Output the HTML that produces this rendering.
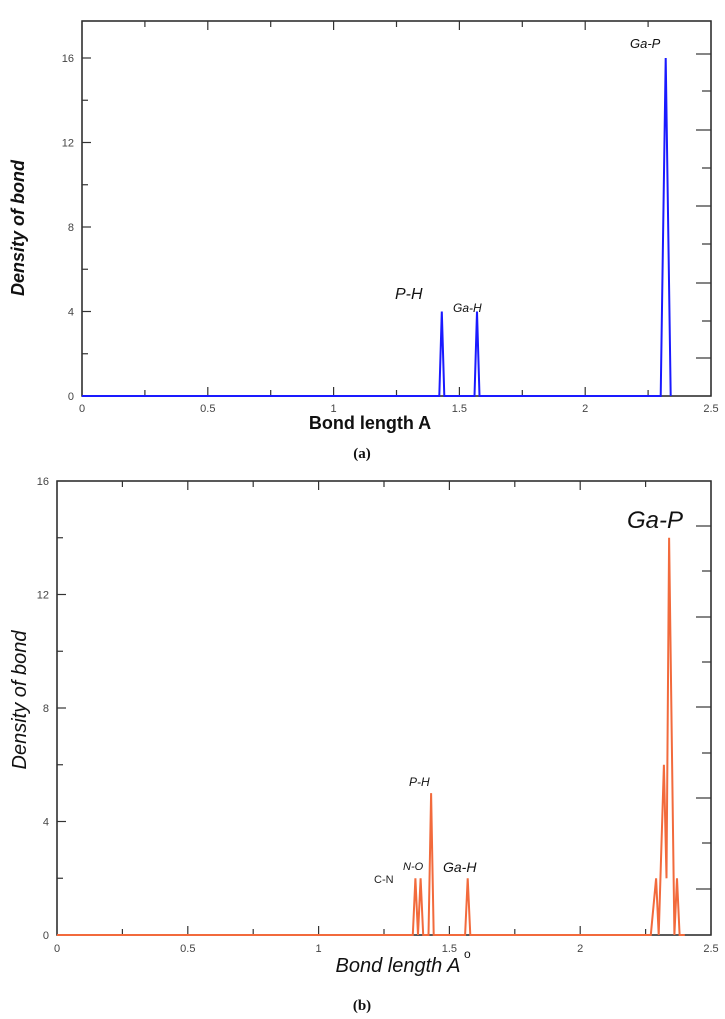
<!DOCTYPE html>
<html><head><meta charset="utf-8">
<style>
html,body{margin:0;padding:0;background:#fff;}
svg{display:block;}
text{font-family:"Liberation Sans",Arial,sans-serif;}
text.serif{font-family:"Liberation Serif","Times New Roman",serif;}
</style></head>
<body>
<svg id="fig" width="725" height="1019" viewBox="0 0 725 1019"></svg>
<script>
// Panel (a) data
const aX = [0, 1.42, 1.43, 1.44, 1.56, 1.57, 1.58, 2.30, 2.32, 2.34];
const aY = [0, 0, 4, 0, 0, 4, 0, 0, 16, 0];
// Panel (b) data
const bX = [0, 1.36, 1.37, 1.38, 1.39, 1.40, 1.42, 1.43, 1.44, 1.56, 1.57, 1.58, 2.27, 2.29, 2.30, 2.32, 2.33, 2.34, 2.36, 2.37, 2.38, 2.40];
const bY = [0, 0, 2, 0, 2, 0, 0, 5, 0, 0, 2, 0, 0, 2, 0, 6, 2, 14, 0, 2, 0, 0];
const xTicks = [0, 0.5, 1, 1.5, 2, 2.5];
const xTickLabels = ["0", "0.5", "1", "1.5", "2", "2.5"];
const yTicks = [0, 4, 8, 12, 16];
const yTickLabels = ["0", "4", "8", "12", "16"];

const NS = "http://www.w3.org/2000/svg";
const svg = document.getElementById("fig");
function mk(tag, attrs, parent, txt) {
  const e = document.createElementNS(NS, tag);
  for (const k in attrs) e.setAttribute(k, attrs[k]);
  if (txt !== undefined) e.textContent = txt;
  (parent || svg).appendChild(e);
  return e;
}

function panel(cfg) {
  const g = mk("g", {});
  
  
  const sx = v => cfg.x0 + (v - 0) / 2.5 * (cfg.x1 - cfg.x0);
  const sy = v => cfg.y0 - v / 16 * (cfg.y0 - cfg.y16);
  const fr = mk("rect", {x: cfg.x0, y: cfg.top, width: cfg.x1 - cfg.x0, height: cfg.y0 - cfg.top, fill: "none", stroke: "#222", "stroke-width": 1.5}, g);
  
  
  for (let v = 0; v <= 2.5001; v += 0.25) {
    const major = Math.abs(v * 2 - Math.round(v * 2)) < 1e-6;
    const L = major ? 9 : 6;
    mk("line", {x1: sx(v), x2: sx(v), y1: cfg.y0, y2: cfg.y0 - L, stroke: "#333", "stroke-width": 1.2}, g);
    mk("line", {x1: sx(v), x2: sx(v), y1: cfg.top, y2: cfg.top + L, stroke: "#333", "stroke-width": 1.2}, g);
  }
  xTicks.forEach((v, i) => {
    const t = mk("text", {x: sx(v), y: cfg.y0 + cfg.xlDy, "font-size": 11, fill: "#444", "text-anchor": "middle"}, g, xTickLabels[i]);
    
    
  });
  for (let v = 0; v <= 16; v += 2) {
    const major = v % 4 === 0;
    mk("line", {x1: cfg.x0, x2: cfg.x0 + (major ? 9 : 6), y1: sy(v), y2: sy(v), stroke: "#333", "stroke-width": 1.2}, g);
  }
  yTicks.forEach((v, i) => {
    const t = mk("text", {x: cfg.x0 - 8, y: sy(v) + 4, "font-size": 11, fill: "#444", "text-anchor": "end"}, g, yTickLabels[i]);
    
    
  });
  cfg.rightTicks.forEach((y, i) => {
    mk("line", {x1: cfg.x1, x2: cfg.x1 - (i % 2 ? 9 : 15), y1: y, y2: y, stroke: "#333", "stroke-width": 1.2}, g);
  });
  const pts = cfg.xs.map((v, i) => sx(v).toFixed(1) + "," + sy(cfg.ys[i]).toFixed(1)).join(" ");
  const pl = mk("polyline", {points: pts, fill: "none", stroke: cfg.color, "stroke-width": cfg.sw, "stroke-linejoin": "miter"}, g);
  
  
  return {g, sx, sy};
}

const A = panel({name: "panel-a", x0: 82, x1: 711, top: 21, y0: 396, y16: 58, color: "#1a1aff", sw: 2, xlDy: 16,
  xs: aX, ys: aY, rightTicks: [54, 91, 130, 168, 206, 244, 283, 321, 358]});
function lbl(x, y, s, txt, name, extra) {
  const t = mk("text", Object.assign({x, y, "font-size": s, "font-style": "italic", fill: "#111"}, extra || {}), svg, txt);
  
  
  return t;
}
lbl(630, 48, 13, "Ga-P", "label-ga-p");
lbl(395, 299, 16, "P-H", "label-p-h");
lbl(453, 312, 12, "Ga-H", "label-ga-h");
lbl(10, 228, 18, "Density of bond", "y-axis-title", {transform: "rotate(-90 10 228)", "text-anchor": "middle", dy: "14", "font-weight": "bold"});
const ta = mk("text", {x: 370, y: 429, "font-size": 18, "font-weight": "bold", "text-anchor": "middle", fill: "#111"}, svg, "Bond length A");


const ca = mk("text", {x: 362, y: 458, "font-size": 15, "font-weight": "bold", "text-anchor": "middle", fill: "#111", "class": "serif"}, svg, "(a)");



const B = panel({name: "panel-b", x0: 57, x1: 711, top: 481, y0: 935, y16: 481, color: "#f26a3c", sw: 2, xlDy: 17,
  xs: bX, ys: bY, rightTicks: [526, 571, 617, 662, 707, 753, 798, 843, 889]});
lbl(627, 528, 24, "Ga-P", "label-ga-p-b");
lbl(409, 786, 12, "P-H", "label-p-h-b");
lbl(443, 872, 14, "Ga-H", "label-ga-h-b");
lbl(403, 870, 11, "N-O", "label-n-o");
const cn = mk("text", {x: 374, y: 883, "font-size": 11, fill: "#222"}, svg, "C-N");


lbl(12, 700, 20, "Density of bond", "y-axis-title-b", {transform: "rotate(-90 12 700)", "text-anchor": "middle", dy: "14"});
const tb = mk("text", {x: 398, y: 972, "font-size": 20, "font-style": "italic", "text-anchor": "middle", fill: "#111"}, svg, "Bond length A");


const deg = mk("text", {x: 464, y: 958, "font-size": 12, fill: "#111"}, svg, "o");


const cb = mk("text", {x: 362, y: 1010, "font-size": 15, "font-weight": "bold", "text-anchor": "middle", fill: "#111", "class": "serif"}, svg, "(b)");


</script>
</body></html>
